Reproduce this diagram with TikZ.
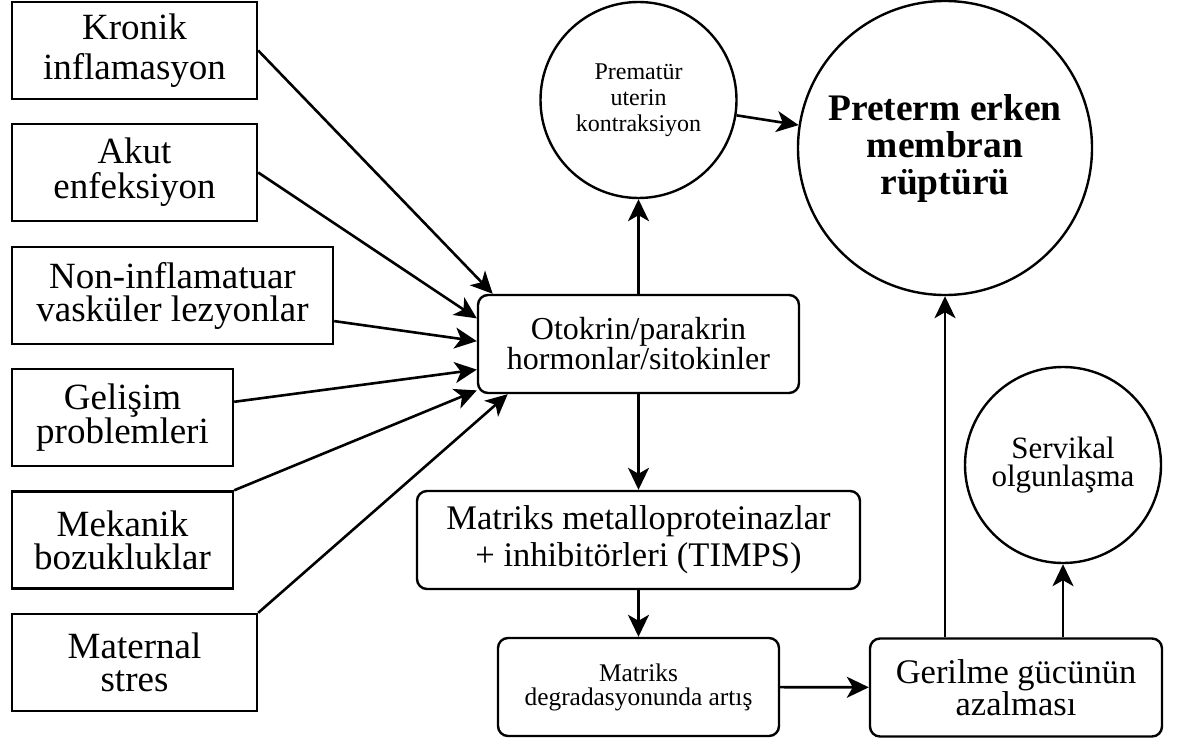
\documentclass[tikz,border=0pt]{standalone}
\usepackage{fontspec}
\setmainfont{Liberation Serif}
\usepackage{tikz}
\usetikzlibrary{arrows.meta}

\begin{document}
\begin{tikzpicture}[
	cause/.style = {draw, line width=2.4pt, minimum height=97pt, align=center, inner sep=0pt},
	stage/.style = {draw, line width=2.4pt, rounded corners=10pt, minimum height=98pt, align=center, inner sep=0pt},
	bubble/.style = {draw, circle, line width=2.4pt, align=center, inner sep=0pt},
	arr/.style = {line width=2.6pt, -{Stealth[length=22pt, width=21pt, inset=6pt]}}
	]
			\useasboundingbox (0,0) rectangle (1180pt,-746pt);
			
			\node[cause, minimum width=245pt, xshift=134.5pt, yshift=-50.5pt, font=\fontsize{37}{40}\selectfont] (kr){Kronik\\inflamasyon};
			\node[cause, minimum width=245pt, xshift=134.5pt, yshift=-172.5pt, font=\fontsize{37}{35}\selectfont] (ak){Akut\\enfeksiyon};
			\node[cause, minimum width=321pt, xshift=172.5pt, yshift=-295.5pt, font=\fontsize{37}{33}\selectfont] (ni){Non-inflamatuar\\vasküler lezyonlar};
			\node[cause, minimum width=221pt, xshift=122.5pt, yshift=-417.5pt, font=\fontsize{37}{33}\selectfont] (ge){Gelişim\\problemleri};
			\node[cause, minimum width=221pt, xshift=122.5pt, yshift=-540pt, font=\fontsize{37}{33}\selectfont] (me){Mekanik\\bozukluklar};
			\node[cause, minimum width=245pt, xshift=134.5pt, yshift=-662.5pt, font=\fontsize{37}{33}\selectfont] (ma){Maternal\\stres};
			
			\node[stage, minimum width=321pt, xshift=638.5pt, yshift=-344pt, font=\fontsize{32}{28}\selectfont] (ot){Otokrin/parakrin\\hormonlar/sitokinler};
			\node[stage, minimum width=443pt, xshift=638.5pt, yshift=-540pt, font=\fontsize{34.5}{37}\selectfont] (mm){Matriks metalloproteinazlar\\+ inhibitörleri (TIMPS)};
			\node[stage, minimum width=281pt, xshift=638.5pt, yshift=-687pt, font=\fontsize{25.4}{24}\selectfont] (md){Matriks\\degradasyonunda artış};
			\node[stage, minimum width=292pt, xshift=1016pt, yshift=-687.5pt, font=\fontsize{34.5}{32}\selectfont] (gg){Gerilme gücünün\\azalması};
			
			\node[bubble, minimum size=196pt, xshift=638.5pt, yshift=-100pt, font=\fontsize{24}{26}\selectfont] (pu){Prematür\\uterin\\kontraksiyon};
			\node[bubble, minimum size=294pt, xshift=945pt, yshift=-148pt, font=\bfseries\fontsize{37.5}{37}\selectfont] (pr){Preterm erken\\membran\\rüptürü};
			\node[bubble, minimum size=196pt, xshift=1063pt, yshift=-465pt, font=\fontsize{31}{28}\selectfont] (sv){Servikal\\olgunlaşma};
			
			\draw[arr] (kr.east) -- (ot.161);
			\draw[arr] (ak.east) -- (ot.171);
			\draw[arr] (ni.-9) -- (ot.179);
			\draw[arr] (ge.8) -- (ot.189);
			\draw[arr] (me.north east) -- (ot.196);
			\draw[arr] (ma.north east) -- (ot.201);
			
			\draw[arr] (ot) -- (pu);
			\draw[arr] (pu) -- (pr);
			\draw[arr] (ot) -- (mm);
			\draw[arr] (mm) -- (md);
			\draw[arr] (md) -- (gg);
			
			\draw[arr] (pr |- gg.north) -- (pr.south);
			\draw[arr] (sv |- gg.north) -- (sv.south);
			
			\end{tikzpicture}
\end{document}
